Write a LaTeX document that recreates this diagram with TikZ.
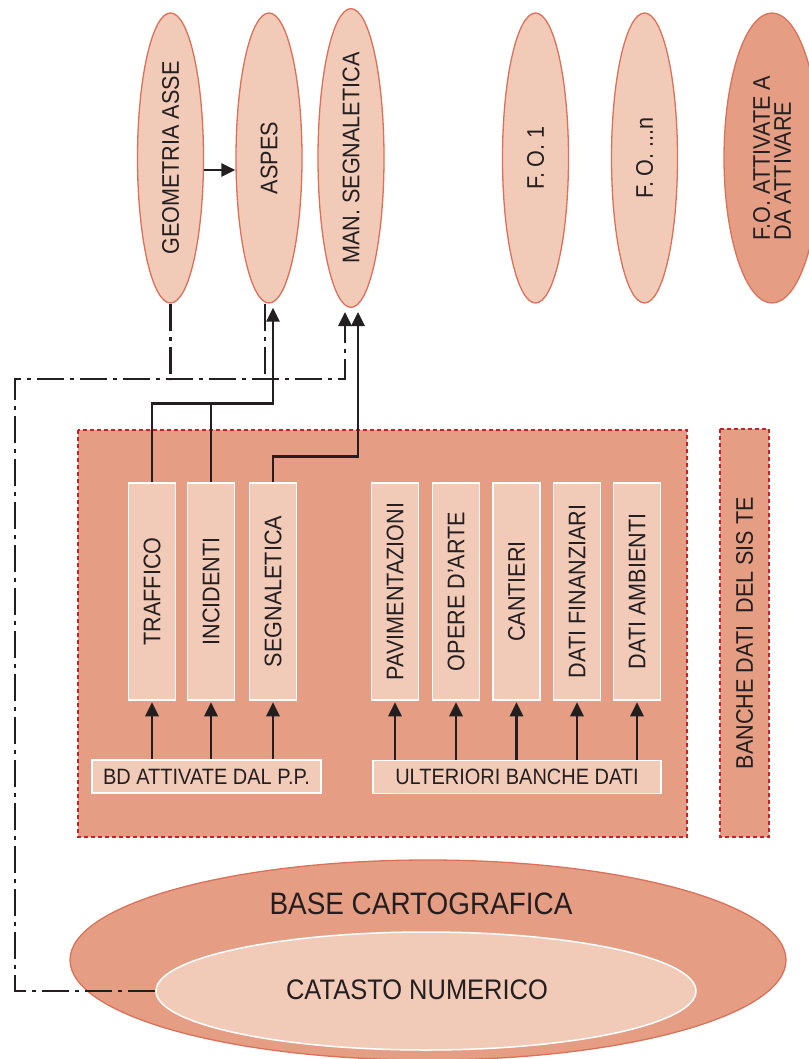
\documentclass[tikz,border=0pt]{standalone}
\usepackage{fontspec}
\setmainfont{Liberation Sans}[FakeStretch=0.9]
\usetikzlibrary{shapes.geometric,arrows.meta}
\definecolor{pale}{HTML}{F2CAB8}
\definecolor{salmon}{HTML}{E59E84}
\definecolor{rim}{HTML}{DC7058}
\definecolor{dotred}{HTML}{CC2028}
\definecolor{ink}{HTML}{231F20}
\tikzset{
  fo/.style={ellipse,draw=rim,fill=pale,line width=1.3pt,rotate=90,minimum width=290pt,minimum height=66pt,inner sep=0pt,text=ink,font=\fontsize{24}{21}\selectfont},
  bd/.style={draw=white,fill=pale,line width=1.5pt,rotate=90,minimum width=217pt,minimum height=47pt,inner sep=0pt,text=ink,font=\fontsize{24}{26}\selectfont},
  bar/.style={draw=white,fill=pale,line width=1.5pt,minimum height=33pt,inner sep=0pt,text=ink,font=\fontsize{22.2}{24}\selectfont},
  frame/.style={draw=dotred,fill=salmon,line width=2pt,dash pattern=on 4pt off 3pt},
  link/.style={ink,line width=2.9pt},
  dashdot/.style={ink,line width=2.9pt,dash pattern=on 27pt off 6pt on 4pt off 6pt},
  headed/.style={-{Triangle[length=14pt,width=13pt]}}
}
\begin{document}
\begin{tikzpicture}[x=1pt,y=-1pt]
\useasboundingbox (0,0) rectangle (808,1059);
\node[fo] (geo) at (170.5,158) {GEOMETRIA ASSE};
\node[fo] (aspes) at (269,158) {ASPES};
\node[fo] (man) at (351,158) {MAN. SEGNALETICA};
\node[fo] (fo1) at (535.5,158) {F. O. 1};
\node[fo] (fon) at (644.5,158) {F. O. ...n};
\node[fo,fill=salmon,minimum height=96pt,align=left] (foatt) at (772,158) {F.O. ATTIVATE A\\DA ATTIVARE};

\draw[frame] (78,430) rectangle (687,837);
\node[frame,rotate=90,minimum width=408pt,minimum height=49pt,inner sep=0pt,text=ink,font=\fontsize{24}{26}\selectfont] (sist) at (744.5,633) {BANCHE DATI\hspace{12pt}DEL SIS TE};

\foreach \x/\name/\txt in {152/traffico/TRAFFICO,211/incidenti/INCIDENTI,273/segn/SEGNALETICA,395/pav/PAVIMENTAZIONI,456/opere/OPERE D'ARTE,516.5/cantieri/CANTIERI,577/fin/DATI FINANZIARI,637/amb/DATI AMBIENTI}{
\node[bd] (\name) at (\x,591.5) {\txt};
}
\node[bar,minimum width=229pt] (bdpp) at (206.5,776.5) {BD ATTIVATE DAL P.P.};
\node[bar,minimum width=288pt] (ulter) at (517,777) {ULTERIORI BANCHE DATI};
\foreach \name in {traffico,incidenti,segn}{
\draw[link,headed,shorten >=1.5pt] (\name.west |- bdpp.north) -- (\name.west);
}
\foreach \name in {pav,opere,cantieri,fin,amb}{
\draw[link,headed,shorten >=1.5pt] (\name.west |- ulter.north) -- (\name.west);
}

\draw[link,headed,shorten >=4pt] (traffico.east) -- ++(0,-79) -| ([xshift=4pt]aspes.west);
\draw[link] (incidenti.east) -- ++(0,-79);
\draw[link,headed,shorten >=4pt] (segn.east) -- ++(0,-26) -| ([xshift=7pt]man.west);
\draw[link,headed] ([yshift=-12pt]geo.south) -- ([yshift=-12pt]aspes.north);

\node[ellipse,draw=rim,fill=salmon,line width=1.3pt,minimum width=716pt,minimum height=200pt] (base) at (428,960) {};
\node[text=ink,font=\fontsize{31}{34}\selectfont] (basetxt) at (421,904) {BASE CARTOGRAFICA};
\node[ellipse,draw=white,fill=pale,line width=1.5pt,minimum width=540pt,minimum height=118pt] (catasto) at (426,991) {};
\node[text=ink,font=\fontsize{28.3}{30}\selectfont] (catastotxt) at (417,990) {CATASTO NUMERICO};

\draw[dashdot,headed,shorten >=4pt] (catasto.west) -| (15,379) -| ([xshift=-6pt]man.west);
\draw[dashdot] (geo.west) -- ++(0,76);
\draw[dashdot] ([xshift=-4pt]aspes.west) -- ++(0,70);
\end{tikzpicture}
\end{document}
